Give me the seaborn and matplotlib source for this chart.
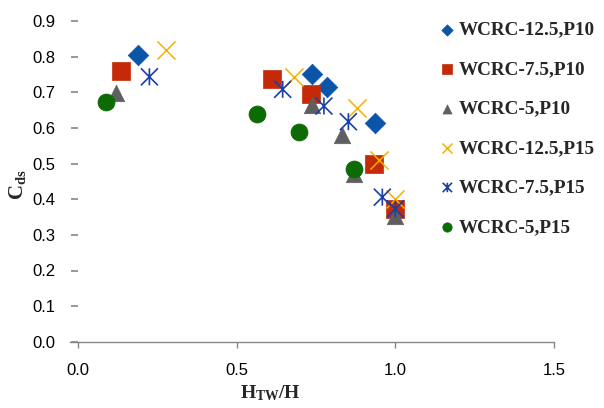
import numpy as np
import pandas as pd
import matplotlib
matplotlib.use('Agg')
import matplotlib.pyplot as plt
from matplotlib.path import Path
import seaborn as sns

# series values
labels = ['WCRC-12.5,P10', 'WCRC-7.5,P10', 'WCRC-5,P10',
          'WCRC-12.5,P15', 'WCRC-7.5,P15', 'WCRC-5,P15']

x_125_p10 = [0.19, 0.736, 0.784, 0.936]
y_125_p10 = [0.804, 0.751, 0.715, 0.615]

x_75_p10 = [0.137, 0.612, 0.735, 0.933, 1.0]
y_75_p10 = [0.760, 0.737, 0.695, 0.498, 0.373]

x_5_p10 = [0.121, 0.738, 0.832, 0.871, 1.0]
y_5_p10 = [0.698, 0.664, 0.580, 0.472, 0.353]

x_125_p15 = [0.277, 0.681, 0.880, 0.949, 1.0]
y_125_p15 = [0.819, 0.744, 0.657, 0.510, 0.400]

x_75_p15 = [0.225, 0.645, 0.775, 0.852, 0.959, 1.0]
y_75_p15 = [0.744, 0.709, 0.662, 0.618, 0.406, 0.373]

x_5_p15 = [0.088, 0.563, 0.697, 0.871]
y_5_p15 = [0.672, 0.639, 0.588, 0.485]

xs = [x_125_p10, x_75_p10, x_5_p10, x_125_p15, x_75_p15, x_5_p15]
ys = [y_125_p10, y_75_p10, y_5_p10, y_125_p15, y_75_p15, y_5_p15]

colors = ['#0A55A8', '#C42A08', '#5F5F5F', '#F5B000', '#1A3FA8', '#0D6B06']

# asterisk: vertical bar plus two diagonals
star = Path([(0, -1), (0, 1), (-1, -1), (1, 1), (-1, 1), (1, -1)],
            [Path.MOVETO, Path.LINETO, Path.MOVETO, Path.LINETO, Path.MOVETO, Path.LINETO])
markers = ['D', 's', '^', 'x', star, 'o']
sizes = [110, 150, 140, 170, 150, 150]

plt.rcParams['mathtext.fontset'] = 'custom'
plt.rcParams['mathtext.bf'] = 'Liberation Serif:bold'
plt.rcParams['mathtext.rm'] = 'Liberation Serif'
plt.rcParams['mathtext.it'] = 'Liberation Serif:italic'

sns.set_style('white')
plt.rcParams['font.family'] = ['Liberation Sans', 'DejaVu Sans']

fig = plt.figure(figsize=(6.04, 4.08), dpi=100)
ax = fig.add_axes([78 / 604, 1 - 341.7 / 408, 476 / 604, 320.4 / 408])

for i in range(len(labels)):
    df = pd.DataFrame({'x': xs[i], 'y': ys[i]})
    m = markers[i]
    if isinstance(m, str) and m == 'x':
        sns.scatterplot(data=df, x='x', y='y', marker=m, color=colors[i],
                        s=sizes[i], linewidth=1.1, label=labels[i], ax=ax, zorder=3 + i)
    elif isinstance(m, Path):
        sns.scatterplot(data=df, x='x', y='y', marker=m, color=colors[i],
                        edgecolor=colors[i], facecolor='none',
                        s=sizes[i], linewidth=1.2, label=labels[i], ax=ax, zorder=3 + i)
    else:
        sns.scatterplot(data=df, x='x', y='y', marker=m, color=colors[i],
                        edgecolor=colors[i], s=sizes[i], linewidth=0.5,
                        label=labels[i], ax=ax, zorder=3 + i)

ax.set_xlim(0, 1.5)
ax.set_ylim(0, 0.9)
ax.set_xticks([0.0, 0.5, 1.0, 1.5])
ax.set_xticklabels(['0.0', '0.5', '1.0', '1.5'])
ax.set_yticks(np.arange(0, 0.91, 0.1))
ax.set_yticklabels([f'{v:.1f}' for v in np.arange(0, 0.91, 0.1)])

for s in ['top', 'right', 'left']:
    ax.spines[s].set_visible(False)
ax.spines['bottom'].set_color('#868686')
ax.spines['bottom'].set_linewidth(1.0)
ax.spines['bottom'].set_bounds(-0.025, 1.5)

ax.tick_params(axis='y', direction='out', length=5, width=1.2, color='#868686',
               pad=11, labelsize=12, labelcolor='black', left=True)
ax.tick_params(axis='x', direction='out', length=4.5, width=1.0, color='#868686',
               pad=11, labelsize=12, labelcolor='black', bottom=True)

ax.set_xlabel(r'$\mathbf{H_{TW}/H}$', fontsize=14)
ax.xaxis.set_label_coords(0.405, -0.13)
ax.set_ylabel(r'$\mathbf{C_{ds}}$', fontsize=15)
ax.yaxis.set_label_coords(-0.104, 0.49)

leg = ax.legend(loc='upper left', bbox_to_anchor=(423 / 604, 1 - 4 / 408),
                bbox_transform=fig.transFigure, frameon=False, markerscale=0.55,
                handlelength=0.74, handletextpad=0.22, labelspacing=1.15,
                prop={'family': 'Liberation Serif', 'weight': 'bold', 'size': 13.8})

fig.savefig('out.png', dpi=100)
